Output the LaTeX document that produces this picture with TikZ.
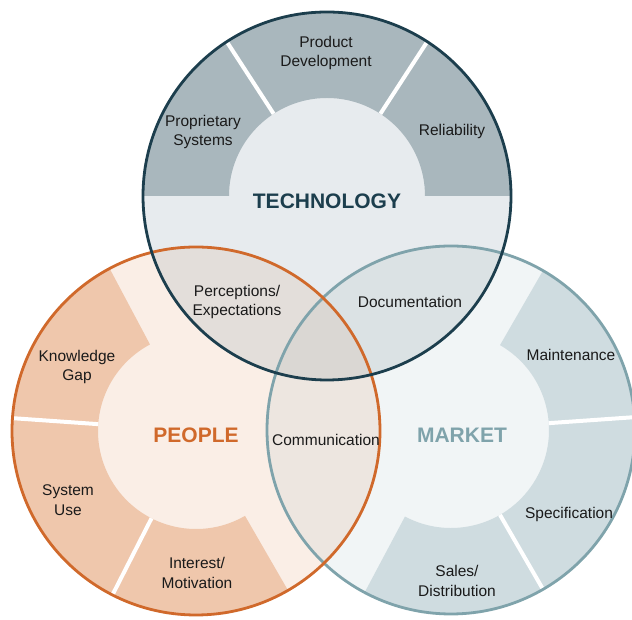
\documentclass[tikz,border=0pt]{standalone}
\usepackage{fontspec}
\setmainfont{Liberation Sans}
\definecolor{techline}{HTML}{1C3E4D}
\definecolor{techband}{HTML}{A9B7BD}
\definecolor{techin}{HTML}{E7EBEE}
\definecolor{pline}{HTML}{D0692B}
\definecolor{pband}{HTML}{EFC7AC}
\definecolor{pplin}{HTML}{FAEEE6}
\definecolor{mline}{HTML}{7FA3AB}
\definecolor{mband}{HTML}{CFDCE0}
\definecolor{mkin}{HTML}{F1F5F6}
\definecolor{tpcol}{HTML}{E3DEDA}
\definecolor{tmcol}{HTML}{DBE2E4}
\definecolor{pmcol}{HTML}{EDE6E0}
\definecolor{tpmcol}{HTML}{DAD7D3}
\definecolor{txt}{HTML}{1A1A1A}
\tikzset{
  lbl/.style={align=center, text=txt, inner sep=0pt, font=\fontsize{15.5}{19.5}\selectfont},
  ttl/.style={inner sep=0pt, font=\fontsize{21}{24}\selectfont\bfseries},
  divider/.style={white, line width=4pt},
  ring/.style={line width=2.8pt}
}
\begin{document}
\begin{tikzpicture}[x=1pt,y=1pt]
\useasboundingbox (0,0) rectangle (632,620);
\coordinate (T) at (327,424);
\coordinate (P) at (196,189);
\coordinate (M) at (451,190);
% base fills
\fill[techin] (T) circle[radius=184];
\fill[pplin] (P) circle[radius=184];
\fill[mkin] (M) circle[radius=184];
% overlaps
\begin{scope}
  \clip (P) circle[radius=184];
  \fill[pmcol] (M) circle[radius=184];
\end{scope}
\begin{scope}
  \clip (T) circle[radius=184];
  \fill[tpcol] (P) circle[radius=184];
  \fill[tmcol] (M) circle[radius=184];
  \clip (P) circle[radius=184];
  \fill[tpmcol] (M) circle[radius=184];
\end{scope}
% bands
\begin{scope}[shift={(T)}]
  \fill[techband] (0:184) arc[start angle=0,end angle=180,radius=184] -- (180:98) arc[start angle=180,end angle=0,radius=98] -- cycle;
  \draw[divider] (57:98) -- (57:184);
  \draw[divider] (123:98) -- (123:184);
\end{scope}
\begin{scope}[shift={(P)}]
  \fill[pband] (118:184) arc[start angle=118,end angle=300,radius=184] -- (300:98) arc[start angle=300,end angle=118,radius=98] -- cycle;
  \draw[divider] (176:98) -- (176:184);
  \draw[divider] (243:98) -- (243:184);
\end{scope}
\begin{scope}[shift={(M)}]
  \fill[mband] (242:184) arc[start angle=242,end angle=420,radius=184] -- (420:98) arc[start angle=420,end angle=242,radius=98] -- cycle;
  \draw[divider] (300:98) -- (300:184);
  \draw[divider] (364:98) -- (364:184);
\end{scope}
% rings
\draw[ring, mline] (M) circle[radius=184];
\draw[ring, pline] (P) circle[radius=184];
\draw[ring, techline] (T) circle[radius=184];
% titles
\node[ttl, text=techline] (techT) at (327,419) {TECHNOLOGY};
\node[ttl, text=pline] (peopleT) at (196,185) {PEOPLE};
\node[ttl, text=mline] (marketT) at (462,185) {MARKET};
% labels
\node[lbl] (prod) at (326,567) {Product\\Development};
\node[lbl] (prop) at (203,488) {Proprietary\\Systems};
\node[lbl] (rel) at (452,488) {Reliability};
\node[lbl] (perc) at (237,318) {Perceptions/\\Expectations};
\node[lbl] (doc) at (410,318) {Documentation};
\node[lbl] (know) at (77,253) {Knowledge\\Gap};
\node[lbl] (comm) at (326,180) {Communication};
\node[lbl] (maint) at (571,265) {Maintenance};
\node[lbl] (spec) at (569,106) {Specification};
\node[lbl] (sales) at (457,39) {Sales/\\Distribution};
\node[lbl] (inter) at (197,47) {Interest/\\Motivation};
\node[lbl] (sys) at (68,120) {System\\Use};
\end{tikzpicture}
\end{document}
